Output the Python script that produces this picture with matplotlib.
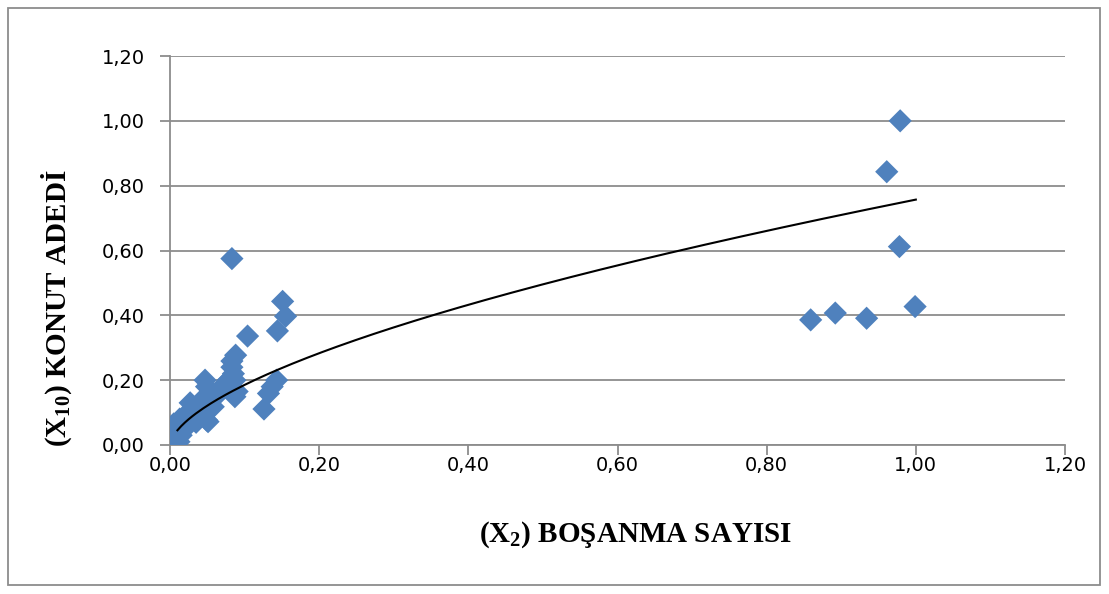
import numpy as np
import matplotlib.pyplot as plt
from matplotlib.patches import Rectangle

plt.rcParams['mathtext.fontset'] = 'custom'
plt.rcParams['mathtext.rm'] = 'Liberation Serif:bold'
plt.rcParams['mathtext.it'] = 'Liberation Serif:bold'
plt.rcParams['mathtext.bf'] = 'Liberation Serif:bold'

# (X2) bosanma sayisi vs (X10) konut adedi, normalised values
x2 = [0.005, 0.006, 0.008, 0.010, 0.012, 0.013, 0.015, 0.018, 0.020, 0.022,
      0.025, 0.027, 0.028, 0.030, 0.032, 0.035, 0.038, 0.040, 0.043, 0.047,
      0.049, 0.049, 0.051, 0.054, 0.055, 0.058, 0.062, 0.067, 0.072, 0.074,
      0.078, 0.080, 0.083, 0.083, 0.085, 0.087, 0.087, 0.088, 0.090, 0.083,
      0.104, 0.126, 0.132, 0.137, 0.143, 0.144, 0.151, 0.155,
      0.859, 0.892, 0.934, 0.961, 0.978, 0.979, 0.999]
x10 = [0.065, 0.025, 0.015, 0.040, 0.010, 0.080, 0.030, 0.087, 0.050, 0.060,
       0.100, 0.130, 0.075, 0.110, 0.090, 0.070, 0.120, 0.100, 0.140, 0.200,
       0.180, 0.077, 0.072, 0.160, 0.120, 0.118, 0.150, 0.170, 0.180, 0.190,
       0.200, 0.170, 0.259, 0.240, 0.220, 0.200, 0.149, 0.277, 0.165, 0.575,
       0.336, 0.111, 0.159, 0.180, 0.200, 0.352, 0.443, 0.397,
       0.386, 0.407, 0.391, 0.843, 0.612, 1.000, 0.427]

# power trendline y = a * x^b, drawn over [trend_x0, trend_x1]
trend_a = 0.757
trend_b = 0.611
trend_x0 = 0.01
trend_x1 = 1.0

ticks = [0.0, 0.2, 0.4, 0.6, 0.8, 1.0, 1.2]
tick_labels = ['0,00', '0,20', '0,40', '0,60', '0,80', '1,00', '1,20']

grid_col = '#8c8c8c'

fig = plt.figure(figsize=(11.09, 5.94), dpi=100)
ax = fig.add_axes([170/1109, 1-445/594, 895/1109, 389/594])

ax.scatter(x2, x10, marker='D', s=140, color='#4F81BD', edgecolors='none', zorder=3)

xt = np.linspace(trend_x0, trend_x1, 200)
ax.plot(xt, trend_a * xt**trend_b, color='black', lw=1.5, zorder=4)

ax.set_xlim(0, 1.2)
ax.set_ylim(0, 1.2)
ax.set_xticks(ticks)
ax.set_xticklabels(tick_labels)
ax.set_yticks(ticks)
ax.set_yticklabels(tick_labels)
ax.yaxis.grid(True, color=grid_col, lw=1.3)
ax.set_axisbelow(True)
for s in ['top', 'right']:
    ax.spines[s].set_visible(False)
for s in ['left', 'bottom']:
    ax.spines[s].set_color(grid_col)
    ax.spines[s].set_linewidth(1.3)
ax.tick_params(direction='out', length=7, width=1.3, color=grid_col, labelsize=14)
ax.tick_params(axis='x', pad=1)
ax.tick_params(axis='y', pad=11)
for lab in ax.get_xticklabels() + ax.get_yticklabels():
    lab.set_family('DejaVu Sans')

fig.text(636/1109, 1-535/594, r'(X$_{2}$) BOŞANMA SAYISI', ha='center', va='center',
         family='Liberation Serif', weight='bold', fontsize=21)
fig.text(57/1109, 1-308/594, r'(X$_{10}$) KONUT ADEDİ', ha='center', va='center',
         rotation=90, family='Liberation Serif', weight='bold', fontsize=21)

fig.patches.append(Rectangle((8/1109, 1-585/594), 1092/1109, 577/594,
                             transform=fig.transFigure, fill=False,
                             edgecolor=grid_col, lw=1.3))

fig.savefig('out.png', dpi=100)
